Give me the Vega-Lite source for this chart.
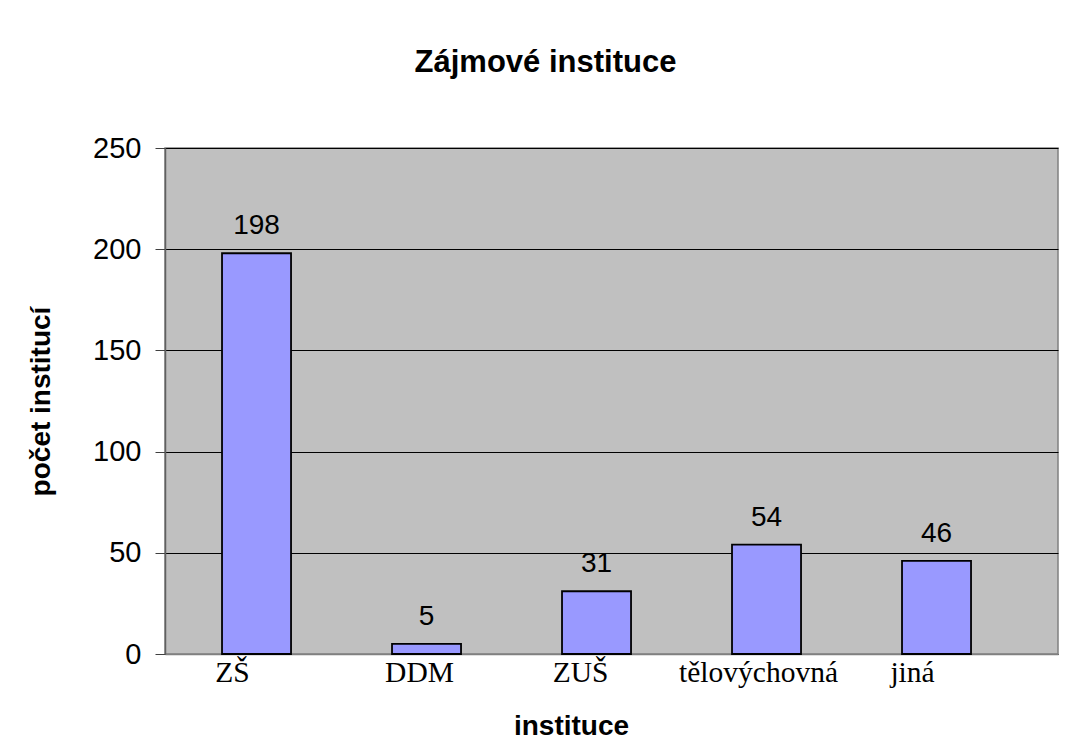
{
  "$schema": "https://vega.github.io/schema/vega-lite/v6.json",
  "width": 893,
  "height": 506,
  "autosize": "none",
  "padding": {"left": 165, "top": 148, "right": 10, "bottom": 97},
  "background": "white",
  "title": {
    "text": "Zájmové instituce",
    "font": "Liberation Sans",
    "fontSize": 31,
    "fontWeight": "bold",
    "color": "black",
    "anchor": "middle",
    "dx": -66,
    "offset": 55
  },
  "data": {
    "values": [
      {"instituce": "ZŠ", "pocet": 198},
      {"instituce": "DDM", "pocet": 5},
      {"instituce": "ZUŠ", "pocet": 31},
      {"instituce": "tělovýchovná", "pocet": 54},
      {"instituce": "jiná", "pocet": 46}
    ]
  },
  "encoding": {
    "x": {
      "field": "instituce",
      "type": "nominal",
      "sort": null,
      "scale": {"paddingInner": 0.594, "paddingOuter": 0.4235, "align": 0.396},
      "axis": {
        "title": "instituce",
        "titleFont": "Liberation Sans",
        "titleFontSize": 28,
        "titleFontWeight": "bold",
        "titleColor": "black",
        "titleX": 406,
        "titleY": 80,
        "titleBaseline": "alphabetic",
        "labelFont": "Liberation Serif",
        "labelFontSize": 29.5,
        "labelColor": "black",
        "labelAngle": 0,
        "labelOffset": {"expr": "datum.value == 'ZŠ' ? -24 : datum.value == 'DDM' ? -7 : datum.value == 'ZUŠ' ? -16 : datum.value == 'jiná' ? -24 : -8"},
        "labelPadding": 4,
        "ticks": false,
        "grid": false,
        "domainColor": "#808080",
        "domainWidth": 1.5
      }
    },
    "y": {
      "field": "pocet",
      "type": "quantitative",
      "scale": {"domain": [0, 250]},
      "axis": {
        "title": "počet institucí",
        "titleFont": "Liberation Sans",
        "titleFontSize": 28,
        "titleFontWeight": "bold",
        "titleColor": "black",
        "titleX": -124,
        "titleY": 253,
        "titleAngle": -90,
        "titleBaseline": "middle",
        "titleAlign": "center",
        "values": [0, 50, 100, 150, 200, 250],
        "labelFont": "Liberation Sans",
        "labelFontSize": 29,
        "labelColor": "black",
        "labelPadding": 14,
        "tickSize": 10,
        "tickColor": "#404040",
        "tickWidth": 1,
        "domainColor": "#606060",
        "domainWidth": 1.5,
        "grid": true,
        "gridColor": "black",
        "gridOpacity": 1,
        "gridWidth": 1
      }
    }
  },
  "layer": [
    {
      "mark": {"type": "bar", "fill": "#9999FF", "stroke": "black", "strokeWidth": 1.8}
    },
    {
      "mark": {
        "type": "text",
        "font": "Liberation Sans",
        "fontSize": 28,
        "color": "black",
        "baseline": "alphabetic",
        "dy": -19
      },
      "encoding": {"text": {"field": "pocet", "type": "quantitative"}}
    }
  ],
  "config": {
    "view": {"fill": "#C0C0C0", "stroke": "#808080", "strokeWidth": 1.5}
  }
}
